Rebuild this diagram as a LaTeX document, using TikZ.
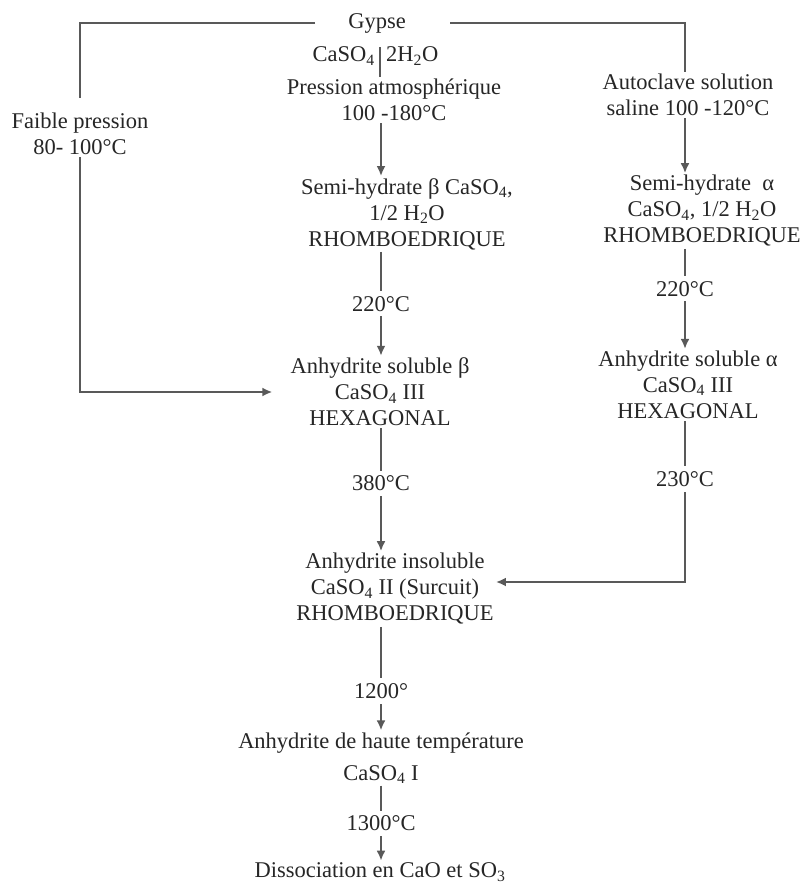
\documentclass[tikz,border=0pt]{standalone}
\usepackage{fontspec}
\setmainfont{Liberation Serif}
\usetikzlibrary{arrows.meta}

\begin{document}
\begin{tikzpicture}[x=1pt,y=-1pt,
  txt/.style={align=center, text=black!85, font=\fontsize{22.5}{26}\selectfont, inner sep=2pt},
  lien/.style={draw=black!65, line width=2.2pt},
  fleche/.style={lien, -{Latex[length=10pt,width=9pt]}},
  temp/.style={txt, fill=white, inner sep=5pt}]
\useasboundingbox (0,0) rectangle (803,886);
\coordinate (axe) at (381,0);
\coordinate (dte) at (685,0);
% colonne centrale
\node[txt] (gypse) at (377,23) {Gypse};
\node[txt, anchor=east] (gfa) at (377,56) {CaSO\textsubscript{4}};
\node[txt, anchor=west] (gfb) at (384,56) {2H\textsubscript{2}O};
\node[txt] (patm) at (394,100) {Pression atmosphérique\\100 -180°C};
\node[txt] (sbeta) at (407,214) {Semi-hydrate β CaSO\textsubscript{4},\\1/2 H\textsubscript{2}O\\RHOMBOEDRIQUE};
\node[txt] (asbeta) at (380,392) {Anhydrite soluble β\\CaSO\textsubscript{4} III\\HEXAGONAL};
\node[txt] (ains) at (395,589) {Anhydrite insoluble\\CaSO\textsubscript{4} II (Surcuit)\\RHOMBOEDRIQUE};
\node[txt] (aht) at (381,758) {Anhydrite de haute température\\[6pt]CaSO\textsubscript{4} I};
\node[txt] (diss) at (380,872) {Dissociation en CaO et SO\textsubscript{3}};
% colonne droite
\node[txt] (auto) at (688,95) {Autoclave solution\\saline 100 -120°C};
\node[txt] (salpha) at (702,211) {Semi-hydrate\ \ α\\CaSO\textsubscript{4}, 1/2 H\textsubscript{2}O\\RHOMBOEDRIQUE};
\node[txt] (asalpha) at (688,385) {Anhydrite soluble α\\CaSO\textsubscript{4} III\\HEXAGONAL};
% colonne gauche
\node[txt] (faible) at (80,134) {Faible pression\\80- 100°C};
\coordinate (gl) at (315,23);
\coordinate (gr) at (450,23);
\coordinate (tick) at (380,47);

% liaisons
\draw[lien] (tick) -- (tick |- patm.north);
\draw[fleche] (patm.south -| axe) -- (sbeta.north -| axe);
\draw[fleche] (sbeta.south -| axe) -- (asbeta.north -| axe) node[temp, midway] {220°C};
\draw[fleche] (asbeta.south -| axe) -- (ains.north -| axe) node[temp, pos=0.45] {380°C};
\draw[fleche] (ains.south -| axe) -- (aht.north -| axe) node[temp, pos=0.62] {1200°};
\draw[fleche] (aht.south -| axe) -- (diss.north -| axe) node[temp, midway] {1300°C};
\draw[lien, shorten >=13pt] (gl) -| (faible.north);
\draw[fleche, shorten >=16pt] (faible.south) |- (asbeta.west);
\draw[lien] (gr) -| (auto.north -| dte);
\draw[fleche] (auto.south -| dte) -- (salpha.north -| dte);
\draw[fleche] (salpha.south -| dte) -- (asalpha.north -| dte) node[temp, pos=0.4] {220°C};
\draw[fleche] (asalpha.south -| dte) |- ([yshift=7pt]ains.east) node[temp, pos=0.18] {230°C};
\end{tikzpicture}
\end{document}
